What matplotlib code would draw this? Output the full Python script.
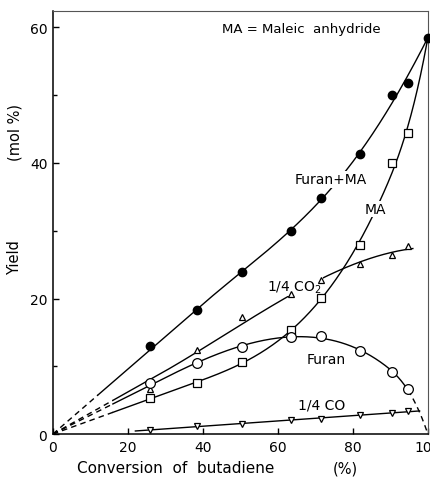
import numpy as np
import matplotlib
matplotlib.use("Agg")
import matplotlib.pyplot as plt

# ---- data ----
conversion = [26.0, 38.5, 50.5, 63.5, 71.5, 82.0, 90.5, 94.7]
furan_ma = [13.0, 18.3, 23.9, 29.9, 34.8, 41.4, 50.0, 51.8]
maleic = [5.3, 7.5, 10.6, 15.3, 20.1, 27.9, 40.0, 44.5]
co2_quarter = [6.6, 12.4, 17.3, 20.6, 22.7, 25.1, 26.4, 27.8]
furan = [7.5, 10.5, 12.8, 14.3, 14.4, 12.3, 9.1, 6.6]
co_quarter = [0.6, 1.2, 1.5, 2.1, 2.2, 2.8, 3.1, 3.4]

full_conversion = 100.0
full_yield = 58.5          # Furan+MA and MA at 100 % conversion
furan_full = 0.0           # furan extrapolated to 100 % conversion

x_ticks = [0, 20, 40, 60, 80, 100]
y_ticks = [0, 20, 40, 60]

plt.rcParams['font.family'] = ['DejaVu Sans']

fig = plt.figure(figsize=(4.30, 4.81), dpi=100)
ax = fig.add_axes([0.123, 0.0956, 0.872, 0.879])
ax.set_xlim(0, 100)
ax.set_ylim(0, 62.4)


def smooth_fit(xs, ys, w, k0, knots):
    """Least-squares curve through the origin: straight up to k0, then a
    smooth cubic regression spline (truncated power basis)."""
    xs = np.asarray(xs, float) / 100.0
    ys = np.asarray(ys, float)
    w = np.asarray(w, float)
    k0 = k0 / 100.0
    kn = [k / 100.0 for k in knots]

    def basis(x):
        cols = [x, np.clip(x - k0, 0, None) ** 2, np.clip(x - k0, 0, None) ** 3]
        cols += [np.clip(x - k, 0, None) ** 3 for k in kn]
        return np.column_stack(cols)

    A = basis(xs) * w[:, None]
    coef, *_ = np.linalg.lstsq(A, ys * w, rcond=None)
    return lambda x: basis(np.atleast_1d(np.asarray(x, float)) / 100.0) @ coef


def seg(f, a, b, ls, lw=1.0):
    xx = np.linspace(a, b, 300)
    kw = dict(color='black', lw=lw, zorder=2)
    if ls == '--':
        ax.plot(xx, f(xx), ls='--', dashes=(4, 3), **kw)
    else:
        ax.plot(xx, f(xx), ls='-', **kw)


cx = np.array(conversion)
ones = np.ones(len(cx))

# Furan + MA
f_fm = smooth_fit(np.r_[cx, full_conversion], np.r_[furan_ma, full_yield],
                  np.r_[ones, 6], 40, [80])
seg(f_fm, 0, 12, '--')
seg(f_fm, 12, 100, '-')

# MA
f_ma = smooth_fit(np.r_[cx, full_conversion], np.r_[maleic, full_yield],
                  np.r_[ones, 6], 35, [70, 88])
seg(f_ma, 0, 16, '--')
seg(f_ma, 16, 100, '-')

# 1/4 CO2
f_co2 = smooth_fit(cx, co2_quarter, ones, 28, [])
seg(f_co2, 0, 16, '--')
seg(f_co2, 16, 96.0, '-')

# Furan
f_fu = smooth_fit(np.r_[cx, full_conversion], np.r_[furan, furan_full],
                  np.r_[ones, 4], 30, [70, 88])
seg(f_fu, 0, 16, '--')
seg(f_fu, 16, 94.7, '-')
seg(f_fu, 94.7, 100, '--')

# 1/4 CO
f_co = np.poly1d(np.polyfit(cx, co_quarter, 1))
seg(f_co, 22, 97.8, '-')

# markers
ax.plot(conversion + [full_conversion], furan_ma + [full_yield], 'o',
        ms=6, mfc='black', mec='black', zorder=4, clip_on=False)
ax.plot(conversion, maleic, 's', ms=5.5, mfc='white', mec='black',
        mew=0.9, zorder=4)
ax.plot(conversion, co2_quarter, '^', ms=5, mfc='white', mec='black',
        mew=0.9, zorder=4)
ax.plot(conversion, furan, 'o', ms=7, mfc='white', mec='black',
        mew=0.9, zorder=4)
ax.plot(conversion, co_quarter, 'v', ms=5, mfc='white', mec='black',
        mew=0.9, zorder=4)

# labels on curves
box = dict(facecolor='white', edgecolor='none', pad=1.0)
fs = 10
ax.text(74, 37.6, 'Furan+MA', ha='center', va='center', fontsize=fs, bbox=box, zorder=3)
ax.text(86, 33.2, 'MA', ha='center', va='center', fontsize=fs, bbox=box, zorder=3)
ax.text(64.3, 21.8, '1/4 CO$_2$', ha='center', va='center', fontsize=fs, bbox=box, zorder=3)
ax.text(72.8, 11.0, 'Furan', ha='center', va='center', fontsize=fs, zorder=3)
ax.text(71.7, 4.4, '1/4 CO', ha='center', va='center', fontsize=fs, zorder=3)
ax.text(45, 59.9, 'MA = Maleic  anhydride', ha='left', va='center', fontsize=9.5)

# axes styling
for s in ['left', 'bottom']:
    ax.spines[s].set_linewidth(1.1)
for s in ['top', 'right']:
    ax.spines[s].set_linewidth(0.8)
    ax.spines[s].set_color('#555555')
ax.set_xticks(x_ticks)
ax.set_yticks(y_ticks)
ax.set_yticks([10, 30, 50], minor=True)
ax.tick_params(direction='in', length=4, width=1, labelsize=10, pad=4)
ax.tick_params(which='minor', direction='in', length=3, width=1)

fig.text(15 / 430, 1 - 258 / 481, 'Yield', rotation=90, ha='center', va='center', fontsize=10.5)
fig.text(15 / 430, 1 - 133 / 481, '(mol %)', rotation=90, ha='center', va='center', fontsize=10.5)
fig.text(176 / 430, 1 - 469 / 481, 'Conversion  of  butadiene', ha='center', va='center', fontsize=11)
fig.text(345 / 430, 1 - 469 / 481, '(%)', ha='center', va='center', fontsize=10.5)

fig.savefig('out.png', dpi=100)
